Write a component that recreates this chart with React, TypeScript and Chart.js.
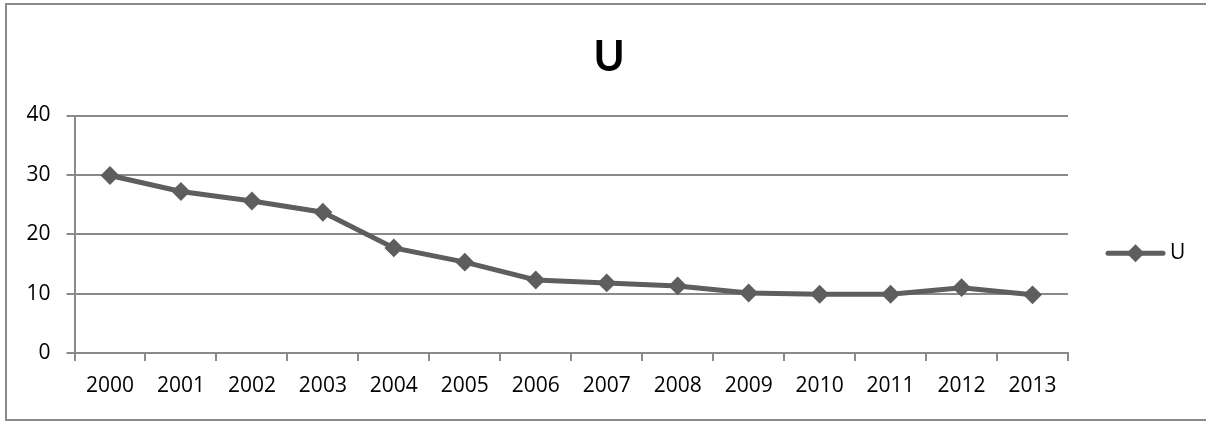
import React, { useEffect, useRef } from "react";
import { Chart, registerables } from "chart.js";

Chart.register(...registerables);

const categories = ["2000", "2001", "2002", "2003", "2004", "2005", "2006", "2007", "2008", "2009", "2010", "2011", "2012", "2013"];
const seriesName = "U";
const seriesValues = [29.9, 27.2, 25.6, 23.7, 17.7, 15.3, 12.3, 11.8, 11.3, 10.1, 9.9, 9.9, 11.0, 9.8];
const yTicks = [0, 10, 20, 30, 40];
const chartTitle = "U";

const FONT = "'Open Sans', sans-serif";
const TITLE_FONT = "Lato, 'Open Sans', sans-serif";
const LINE = "#5e5e5e";
const GRID = "#8a8a8a";

export default function App() {
  const ref = useRef<HTMLCanvasElement | null>(null);

  useEffect(() => {
    if (!ref.current) return;
    const titleAndLegend = {
      id: "titleAndLegend",
      afterDraw(chart: any) {
        const ctx = chart.ctx;
        const area = chart.chartArea;
        ctx.save();
        // title
        ctx.fillStyle = "#000";
        ctx.font = `bold 42px ${TITLE_FONT}`;
        ctx.textAlign = "center";
        ctx.textBaseline = "middle";
        ctx.fillText(chartTitle, chart.width / 2 + 6, 57);
        // legend
        const ly = (area.top + area.bottom) / 2 + 19;
        const lx0 = area.right + 40;
        const lx1 = area.right + 95;
        ctx.strokeStyle = LINE;
        ctx.lineWidth = 5;
        ctx.lineCap = "round";
        ctx.beginPath();
        ctx.moveTo(lx0, ly);
        ctx.lineTo(lx1, ly);
        ctx.stroke();
        const cx = (lx0 + lx1) / 2;
        ctx.fillStyle = LINE;
        ctx.beginPath();
        ctx.moveTo(cx, ly - 9);
        ctx.lineTo(cx + 9, ly);
        ctx.lineTo(cx, ly + 9);
        ctx.lineTo(cx - 9, ly);
        ctx.closePath();
        ctx.fill();
        ctx.fillStyle = "#000";
        ctx.font = `21px ${FONT}`;
        ctx.textAlign = "left";
        ctx.fillText(seriesName, area.right + 102, ly);
        ctx.restore();
      },
    };

    const chart = new Chart(ref.current, {
      type: "line",
      data: {
        labels: categories,
        datasets: [
          {
            label: seriesName,
            data: seriesValues,
            borderColor: LINE,
            backgroundColor: LINE,
            borderWidth: 5,
            tension: 0,
            pointStyle: "rectRot",
            pointRadius: 8,
            pointBorderWidth: 2,
            pointBackgroundColor: LINE,
            pointBorderColor: LINE,
          },
        ],
      },
      options: {
        responsive: false,
        animation: false,
        layout: { padding: { left: 0, top: 115.5, right: 138, bottom: 0 } },
        plugins: {
          legend: { display: false },
          title: { display: false },
          tooltip: { enabled: false },
        },
        scales: {
          x: {
            offset: true,
            grid: {
              display: true,
              drawOnChartArea: false,
              drawTicks: true,
              tickLength: 8,
              color: GRID,
              lineWidth: 2,
              offset: true,
            },
            border: { display: true, color: GRID, width: 2 },
            ticks: {
              color: "#000",
              font: { family: FONT, size: 21 },
              padding: 12,
              maxRotation: 0,
              autoSkip: false,
            },
            afterFit: (scale: any) => {
              scale.height = 68;
            },
          },
          y: {
            min: 0,
            max: 40,
            afterBuildTicks: (scale: any) => {
              scale.ticks = yTicks.map((v) => ({ value: v }));
            },
            grid: {
              display: true,
              drawTicks: true,
              tickLength: 8,
              color: GRID,
              lineWidth: 2,
            },
            border: { display: true, color: GRID, width: 2 },
            ticks: {
              color: "#000",
              font: { family: FONT, size: 21 },
              padding: 16,
            },
            afterFit: (scale: any) => {
              scale.width = 74.5;
            },
          },
        },
      },
      plugins: [titleAndLegend],
    });
    return () => chart.destroy();
  }, []);

  return (
    <div style={{ position: "fixed", left: 0, top: 0, width: 1206, height: 421, background: "#fff", overflow: "hidden" }}>
      <div
        style={{
          position: "absolute",
          left: 5,
          top: 3,
          width: 1230,
          height: 414,
          borderTop: `2px solid ${GRID}`,
          borderLeft: `2px solid ${GRID}`,
          borderBottom: `2px solid ${GRID}`,
        }}
      />
      <canvas ref={ref} width={1206} height={421} style={{ position: "absolute", left: 0, top: 0 }} />
    </div>
  );
}
